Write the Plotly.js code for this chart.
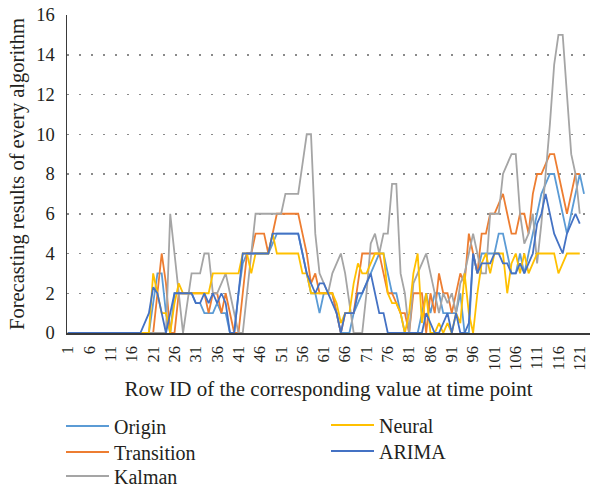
<!DOCTYPE html>
<html>
<head>
<meta charset="utf-8">
<script src="https://cdn.plot.ly/plotly-3.0.1.min.js"></script>
<style>
html, body { margin: 0; padding: 0; background: #ffffff; }
#chart { width: 592px; height: 488px; }
</style>
</head>
<body>
<div id="chart"></div>
<script>
// ---- Data ----
var tickLabels = ["1","6","11","16","21","26","31","36","41","46","51","56","61","66","71","76","81","86","91","96","101","106","111","116","121"];
var tickPositions = [1,6,11,16,21,26,31,36,41,46,51,56,61,66,71,76,81,86,91,96,101,106,111,116,121];
var yTitle = "Forecasting results of every algorithm";
var xTitle = "Row ID of the corresponding value at time point";

var origin = [
  0,0,0,0,0,0,0,0,0,0, 0,0,0,0,0,0,0,0,0,0,
  1.5,3,3,1,0,2,2,2,2,2,
  1.5,1.5,1,1,1,1.5,1,1,0,0,
  2,3.5,4,4,4,4,4,4,4.5,5,
  5,5,5,5,5,4,3,2,2,1,
  2,2,2,1,0,0,0,1,1.5,2,
  2.5,3,3.5,4,4,3,2,2,1,0,
  0,0,0,1,2,1,2,2,1,1,
  1,1,2,0,0,4,3,4,4,4,
  4,5,5,4,3,3,4,3,4,5,
  6,7,7.5,8,8,7,6,5,6,7,
  8,7
];
var transition = [
  0,0,0,0,0,0,0,0,0,0, 0,0,0,0,0,0,0,0,0,0,
  0,2,4,2.5,0,0,2,2,2,2,
  2,2,2,1,2,2,1,2,1,0,
  0,2,4,4,5,5,5,4,5,6,
  6,6,6,6,6,5,4,2.5,3,2,
  2,2,2,1,0,1,1,1,2.5,4,
  4,4,4,4,3,2,2,1.5,1,1,
  0,2,2,2,0,2,1,3,2,2,
  1,2,3,2.5,5,4,3,5,5,6,
  6,6.5,7,6,5,5,6,6,5,7,
  8,8,8.5,9,9,8,7,6,7,8,
  8
];
var kalman = [
  0,0,0,0,0,0,0,0,0,0, 0,0,0,0,0,0,0,0,0,0,
  0,0,0,0,6,4,2,0,1.5,3,
  3,3,4,4,2,2,2.5,3,2,1,
  0,0,2,4,6,6,6,6,6,6,
  6,7,7,7,7,8.5,10,10,5,3,
  2.5,2,3,3.5,4,3,1.5,0,0,0,
  2,4.5,5,4,5,5,7.5,7.5,3,2,
  0,2.5,3,3.5,4,3,2,1,2,1.5,
  2,1,2.5,3,4,5,4,3,3,6,
  6,6,8,8.5,9,9,6,4.5,5,6,
  3.5,5.5,8,10.5,13.5,15,15,12,9,8,
  6
];
var neural = [
  0,0,0,0,0,0,0,0,0,0, 0,0,0,0,0,0,0,0,0,0,
  3,2,1,1,0,1.5,2.5,2,2,2,
  2,2,2,2,3,3,3,3,3,3,
  3,4,4,3,4,4,4,4,5,4,
  4,4,4,4,4,3,3,2,2,2,
  2,2,2,1.5,0.5,1,1,2.5,3.5,3,
  3,3.5,4,4,4,2,1.5,1.5,1,0,
  1,3,4,0.5,2,0,0,0.5,0,0.5,
  0,1,0.5,3,1,0,2,3.5,4,3,
  4,4,4,2,3.5,4,3,4,3,3.5,
  4,4,4,4,4,3,3.5,4,4,4,
  4
];
var arima = [
  0,0,0,0,0,0,0,0,0,0, 0,0,0,0,0,0,0,0,0.5,1,
  2.3,2,1,0,1,2,2,2,2,2,
  1.5,1.5,2,1.5,2,1.5,2,1.5,0,0,
  2,4,4,4,4,4,4,4,5,5,
  5,5,5,5,5,4,3,2.5,2,2.5,
  2.5,2,1.5,1,0,1,1,1,2,2,
  2.5,3,2,1,1,0,0,0,0,0,
  0,0,0,0,1,0.5,0,0,0.5,1,
  0,1,0,0,0.5,4,3,3.5,3.5,3.5,
  4,4,3.5,3.5,3,3,3.5,3,3.5,4,
  5.5,6,7,6,5,4.5,4,5,5.5,6,
  5.5
];

var seriesNames = ["Origin", "Transition", "Kalman", "Neural", "ARIMA"];
var seriesData = [origin, transition, kalman, neural, arima];
var seriesColors = ["#5B9BD5", "#ED7D31", "#A5A5A5", "#FFC000", "#4472C4"];
var seriesLegend = ["legend", "legend2", "legend3", "legend4", "legend5"];

var traces = seriesData.map(function (vals, k) {
  var xs = vals.map(function (_, i) { return i + 1; });
  return {
    type: "scatter",
    mode: "lines",
    name: seriesNames[k],
    x: xs,
    y: vals,
    line: { color: seriesColors[k], width: 1.8 },
    legend: seriesLegend[k],
    hoverinfo: "skip"
  };
});

var serif = "'Liberation Serif', 'DejaVu Serif', serif";
var textColor = "#231f20";

function legendAt(xPx, yPx) {
  return {
    xref: "container", yref: "container",
    x: xPx / 592, y: 1 - yPx / 488,
    xanchor: "left", yanchor: "middle",
    orientation: "v",
    itemwidth: 43,
    font: { family: serif, size: 20, color: textColor },
    bgcolor: "rgba(0,0,0,0)"
  };
}

var layout = {
  width: 592,
  height: 488,
  margin: { l: 67, r: 2, t: 15, b: 155, autoexpand: false },
  paper_bgcolor: "#ffffff",
  plot_bgcolor: "#ffffff",
  font: { family: serif, color: textColor, size: 18 },
  showlegend: true,
  xaxis: {
    range: [0.8, 123.4],
    tickmode: "array",
    tickvals: tickPositions,
    ticktext: tickLabels,
    tickangle: -90,
    tickfont: { family: serif, size: 16.5, color: textColor },
    showgrid: false,
    zeroline: false,
    showline: true,
    linecolor: "#3a3a3a",
    linewidth: 1.5,
    ticks: "outside",
    ticklen: 5,
    tickcolor: "rgba(0,0,0,0)",
    automargin: true,
    title: { text: xTitle, font: { family: serif, size: 21, color: textColor }, standoff: 11 },
    fixedrange: true
  },
  yaxis: {
    range: [0, 16],
    tickmode: "linear",
    tick0: 0,
    dtick: 2,
    tickfont: { family: serif, size: 18.5, color: textColor },
    showgrid: true,
    gridcolor: "#8a8a8a",
    griddash: "1.5px,10.5px",
    gridwidth: 1.5,
    zeroline: false,
    showline: true,
    linecolor: "#3a3a3a",
    linewidth: 1.5,
    ticks: "outside",
    ticklen: 7,
    tickcolor: "rgba(0,0,0,0)",
    automargin: false,
    fixedrange: true
  },
  annotations: [{
    text: yTitle,
    xref: "paper", yref: "paper",
    x: (17 - 67) / 523, y: 0.5,
    xanchor: "center", yanchor: "middle",
    textangle: -90,
    showarrow: false,
    font: { family: serif, size: 20.5, color: textColor }
  }],
  legend: legendAt(61, 426),
  legend2: legendAt(61, 452),
  legend3: legendAt(61, 476),
  legend4: legendAt(326, 425),
  legend5: legendAt(326, 451)
};

Plotly.newPlot("chart", traces, layout, { staticPlot: true, displayModeBar: false });
</script>
</body>
</html>
